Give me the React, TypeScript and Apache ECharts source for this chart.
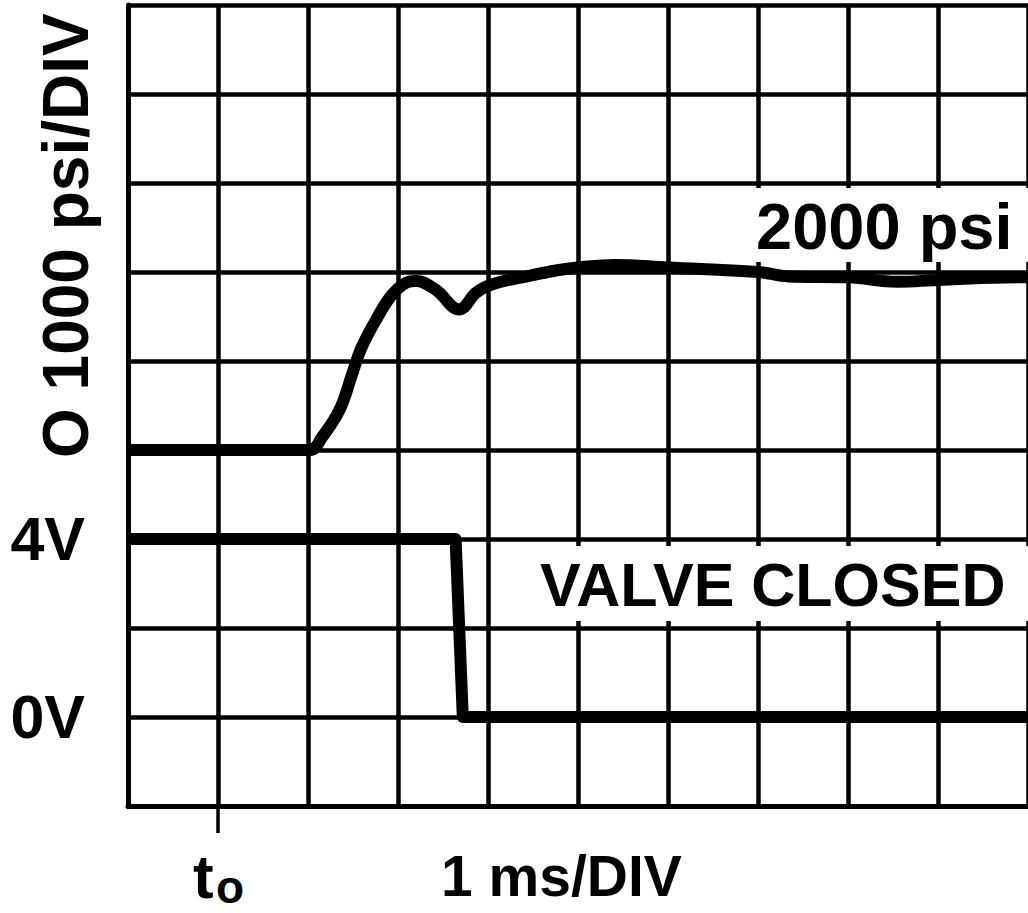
import { useEffect, useRef } from 'react';
import * as echarts from 'echarts';

// time axis in ms (1 ms/DIV), t0 at 0
const timeMin = -1;
const timeMax = 9;
// pressure axis in psi (1000 psi/DIV)
const psiMin = -4000;
const psiMax = 5000;
// valve signal axis in volts (2 V/DIV)
const voltMin = -2;
const voltMax = 16;

const pressureTime = [-1, 1.02, 1.16, 1.35, 1.49, 1.59, 1.76, 1.93, 2.09, 2.2, 2.42, 2.68, 2.87, 3.04, 3.47, 3.77, 4.0, 4.4, 5.0, 6.0, 6.34, 7.0, 7.55, 8.0, 8.91, 9];
const pressurePsi = [0, 0, 150, 450, 850, 1140, 1470, 1740, 1880, 1900, 1800, 1580, 1770, 1860, 1960, 2020, 2050, 2080, 2050, 2000, 1950, 1940, 1890, 1910, 1940, 1940];

const valveTime = [-1, 2.64, 2.72, 9];
const valveVolts = [4, 4, 0, 0];

const voltLabels = [0, 4];
const t0Tick = [0];

const FONT = "'Liberation Sans', Arial, Helvetica, sans-serif";

export default function App() {
  const ref = useRef<HTMLDivElement>(null);
  useEffect(() => {
    if (!ref.current) return;
    const chart = echarts.init(ref.current, null, { renderer: 'svg' });
    const pressureData = pressureTime.map((t, i) => [t, pressurePsi[i]]);
    const valveData = valveTime.map((t, i) => [t, valveVolts[i]]);
    const gridLine = { color: '#000', width: 4.5 };
    chart.setOption({
      animation: false,
      backgroundColor: '#fff',
      grid: { left: 128, top: 5, width: 904, height: 801 },
      xAxis: [
        {
          type: 'value',
          min: timeMin,
          max: timeMax,
          interval: 1,
          axisLine: { show: true, onZero: false, lineStyle: { color: '#000', width: 5 } },
          axisTick: { show: false },
          axisLabel: { show: false },
          splitLine: { show: true, lineStyle: gridLine },
        },
        {
          type: 'value',
          position: 'bottom',
          min: timeMin,
          max: timeMax,
          interval: 1,
          axisLine: { show: false, onZero: false },
          axisTick: { show: true, customValues: t0Tick, length: 27, lineStyle: { color: '#000', width: 3.5 } },
          axisLabel: { show: false },
          splitLine: { show: false },
        },
      ],
      yAxis: [
        {
          type: 'value',
          min: psiMin,
          max: psiMax,
          interval: 1000,
          position: 'left',
          axisLine: { show: true, onZero: false, lineStyle: { color: '#000', width: 5 } },
          axisTick: { show: false },
          axisLabel: { show: false },
          splitLine: { show: true, lineStyle: gridLine },
        },
        {
          type: 'value',
          min: voltMin,
          max: voltMax,
          interval: 2,
          position: 'left',
          axisLine: { show: false },
          axisTick: { show: false },
          splitLine: { show: false },
          axisLabel: {
            show: true,
            margin: 43,
            color: '#000',
            fontSize: 61,
            fontWeight: 'bold',
            fontFamily: FONT,
            formatter: (v: number) => (voltLabels.includes(v) ? `${v}V` : ''),
          },
        },
      ],
      series: [
        {
          name: 'Pressure',
          type: 'line',
          xAxisIndex: 0,
          yAxisIndex: 0,
          data: pressureData,
          showSymbol: false,
          smooth: 0.4,
          z: 5,
          lineStyle: { color: '#000', width: 12, cap: 'butt', join: 'round' },
        },
        {
          name: 'Valve',
          type: 'line',
          xAxisIndex: 0,
          yAxisIndex: 1,
          data: valveData,
          showSymbol: false,
          z: 5,
          lineStyle: { color: '#000', width: 12, cap: 'butt', join: 'round' },
        },
      ],
      graphic: [
        { type: 'rect', z: 1, shape: { x: 700, y: 188, width: 340, height: 74 }, style: { fill: '#fff' } },
        { type: 'rect', z: 1, shape: { x: 505, y: 546, width: 540, height: 75 }, style: { fill: '#fff' } },
        {
          type: 'text', z: 2, x: 756, y: 226,
          style: { text: '2000 psi', fill: '#000', font: `bold 65px ${FONT}`, align: 'left', verticalAlign: 'middle' },
        },
        {
          type: 'text', z: 2, x: 540, y: 585,
          style: { text: 'VALVE CLOSED', fill: '#000', font: `bold 61px ${FONT}`, align: 'left', verticalAlign: 'middle' },
        },
        {
          type: 'text', z: 2, x: 66, y: 458, rotation: Math.PI / 2,
          style: { text: 'O 1000 psi/DIV', fill: '#000', font: `bold 64px ${FONT}`, align: 'left', verticalAlign: 'middle' },
        },
        {
          type: 'text', z: 2, x: 441, y: 876,
          style: { text: '1 ms/DIV', fill: '#000', font: `bold 57px ${FONT}`, align: 'left', verticalAlign: 'middle' },
        },
        {
          type: 'text', z: 2, x: 193, y: 876,
          style: { text: 't', fill: '#000', font: `bold 62px ${FONT}`, align: 'left', verticalAlign: 'middle' },
        },
        {
          type: 'text', z: 2, x: 216, y: 887,
          style: { text: 'o', fill: '#000', font: `bold 46px ${FONT}`, align: 'left', verticalAlign: 'middle' },
        },
      ],
    });
    return () => chart.dispose();
  }, []);
  return <div ref={ref} style={{ position: 'absolute', left: 0, top: 0, width: 1028, height: 913 }} />;
}
